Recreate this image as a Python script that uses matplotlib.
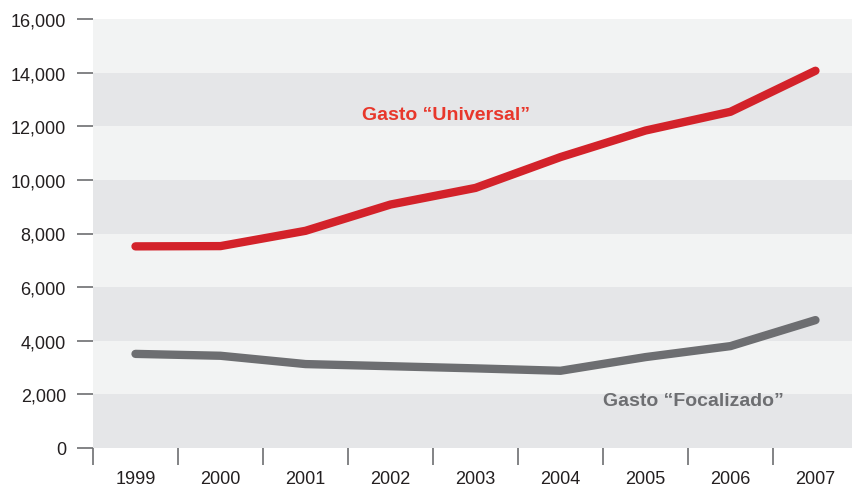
import numpy as np
import matplotlib.pyplot as plt

years = ['1999', '2000', '2001', '2002', '2003', '2004', '2005', '2006', '2007']
universal = [7520, 7530, 8100, 9080, 9700, 10850, 11840, 12540, 14070]
focalizado = [3510, 3440, 3130, 3050, 2970, 2880, 3390, 3800, 4770]
yticks = [0, 2000, 4000, 6000, 8000, 10000, 12000, 14000, 16000]

plt.rcParams['font.family'] = ['Liberation Sans', 'DejaVu Sans']

fig = plt.figure(figsize=(8.52, 4.89), dpi=100)
ax = fig.add_axes([93/852, 40/489, 759/852, 429/489])

# alternating bands
for i in range(len(yticks) - 1):
	col = '#e5e6e8' if i % 2 == 0 else '#f2f3f3'
	ax.axhspan(yticks[i], yticks[i+1], color=col, lw=0, zorder=0)

x = np.arange(len(years))
ax.plot(x, universal, color='#d3222a', lw=6, solid_capstyle='round', solid_joinstyle='round', zorder=3)
ax.plot(x, focalizado, color='#6d6e71', lw=6, solid_capstyle='round', solid_joinstyle='round', zorder=3)

ax.text(3.65, 12430, 'Gasto \u201cUniversal\u201d', color='#e8372b', fontsize=14,
	fontweight='bold', ha='center', va='center')
ax.text(6.57, 1770, 'Gasto \u201cFocalizado\u201d', color='#6d6e71', fontsize=14,
	fontweight='bold', ha='center', va='center')

ax.set_xlim(-0.5, 8.43)
ax.set_ylim(0, 16000)

ax.set_yticks(yticks)
ax.set_yticklabels(['{:,}'.format(v) for v in yticks])
ax.tick_params(axis='y', length=11.5, width=1.2, color='#6d6e71', pad=8,
	labelsize=13, labelcolor='#231f20')

ax.set_xticks(x)
ax.set_xticklabels(years)
ax.set_xticks(np.arange(-0.5, 8, 1), minor=True)
ax.tick_params(axis='x', which='major', length=0, pad=16, labelsize=13, labelcolor='#231f20')
ax.tick_params(axis='x', which='minor', length=12.2, width=1.2, color='#6d6e71')

for s in ax.spines.values():
	s.set_visible(False)

fig.savefig('out.png', dpi=100)
